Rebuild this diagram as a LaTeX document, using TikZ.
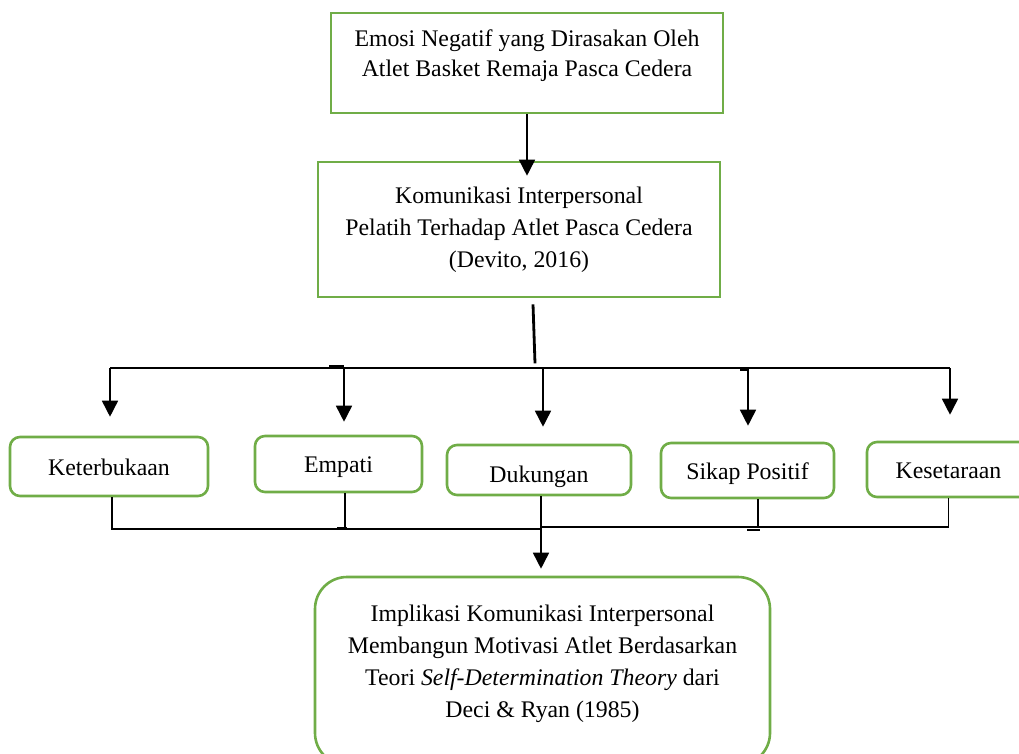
\documentclass[tikz,border=0pt]{standalone}
\usepackage{fontspec}
\setmainfont{Liberation Serif}
\usetikzlibrary{arrows.meta,calc}
\definecolor{boxgreen}{RGB}{112,173,71}
\begin{document}
\begin{tikzpicture}[x=1pt,y=-1pt,
  box/.style={draw=boxgreen,line width=2.6pt,align=center,inner sep=0pt,
    font=\fontsize{23.8}{32}\selectfont},
  rbox/.style={box,rounded corners=10pt,text height=23pt,text depth=6pt},
  conn/.style={line width=1.6pt},
  arr/.style={conn,-{Triangle[width=16pt,length=16pt]}}]
  \useasboundingbox (0,0) rectangle (1019,753);

  \node[box,minimum width=392pt,minimum height=100pt,text depth=20pt,
    font=\fontsize{23.8}{30}\selectfont] (emosi) at (527,63)
    {Emosi Negatif yang Dirasakan Oleh\\Atlet Basket Remaja Pasca Cedera};
  \node[box,minimum width=402pt,minimum height=135pt] (kom) at (519,229.5)
    {Komunikasi Interpersonal\\Pelatih Terhadap Atlet Pasca Cedera\\(Devito, 2016)};

  \node[rbox,minimum width=198pt,minimum height=59pt] (k1) at (109,466.5) {Keterbukaan};
  \node[rbox,minimum width=167pt,minimum height=56pt] (k2) at (338.5,464) {Empati};
  \node[rbox,minimum width=184pt,minimum height=50pt,text height=30pt] (k3) at (539,470) {Dukungan};
  \node[rbox,minimum width=173pt,minimum height=55pt] (k4) at (747.5,470.5) {Sikap Positif};
  \node[rbox,minimum width=163pt,minimum height=55pt] (k5) at (948.5,469.5) {Kesetaraan};

  \node[box,rounded corners=32pt,minimum width=455pt,minimum height=188pt,text depth=19pt]
    (impl) at (542.5,671)
    {Implikasi Komunikasi Interpersonal\\Membangun Motivasi Atlet Berdasarkan\\
     Teori \textit{Self-Determination Theory} dari\\Deci \& Ryan (1985)};

  \draw[arr] (emosi.south) -- ([yshift=-15pt]kom.north -| emosi.south);

  % stub below the second box
  \coordinate (stubA) at ($(kom.south)+(14,6)$);
  \coordinate (stubB) at ($(kom.south)+(16,65)$);
  \draw[line width=2.8pt] (stubA) -- (stubB);

  \coordinate (bus) at (0,368);
  \draw[conn] (bus -| 110,0) -- (bus -| 950,0);
  \foreach \k/\dx/\gap in {k1/1/19,k2/5.5/13,k3/4/17,k4/0.5/16,k5/1.5/26}
    \draw[arr] ([xshift=\dx pt]\k.north |- bus) -- ([xshift=\dx pt,yshift=\gap pt]\k.north);
  \draw[line width=2pt] (329,366) -- (344,366);
  \draw[line width=2pt] (740,370) -- (748,370);

  \coordinate (mrgL) at (541,529);
  \coordinate (mrgR) at (541,527);
  \draw[conn] ([xshift=3pt]k1.south) |- (mrgL);
  \draw[conn] ([xshift=6.5pt]k2.south) -- ([xshift=6.5pt]k2.south |- mrgL);
  \draw[conn] (k5.south) |- (mrgR);
  \draw[conn] ([xshift=10.5pt]k4.south) -- ([xshift=10.5pt]k4.south |- mrgR);
  \draw[conn] ([xshift=2pt]k3.south) -- (mrgR);
  \draw[line width=2pt] (337,528) -- (347,528);
  \draw[line width=2pt] (747,530) -- (760,530);
  \draw[arr] (mrgR) -- ([yshift=7pt]impl.north -| mrgR);
\end{tikzpicture}
\end{document}
